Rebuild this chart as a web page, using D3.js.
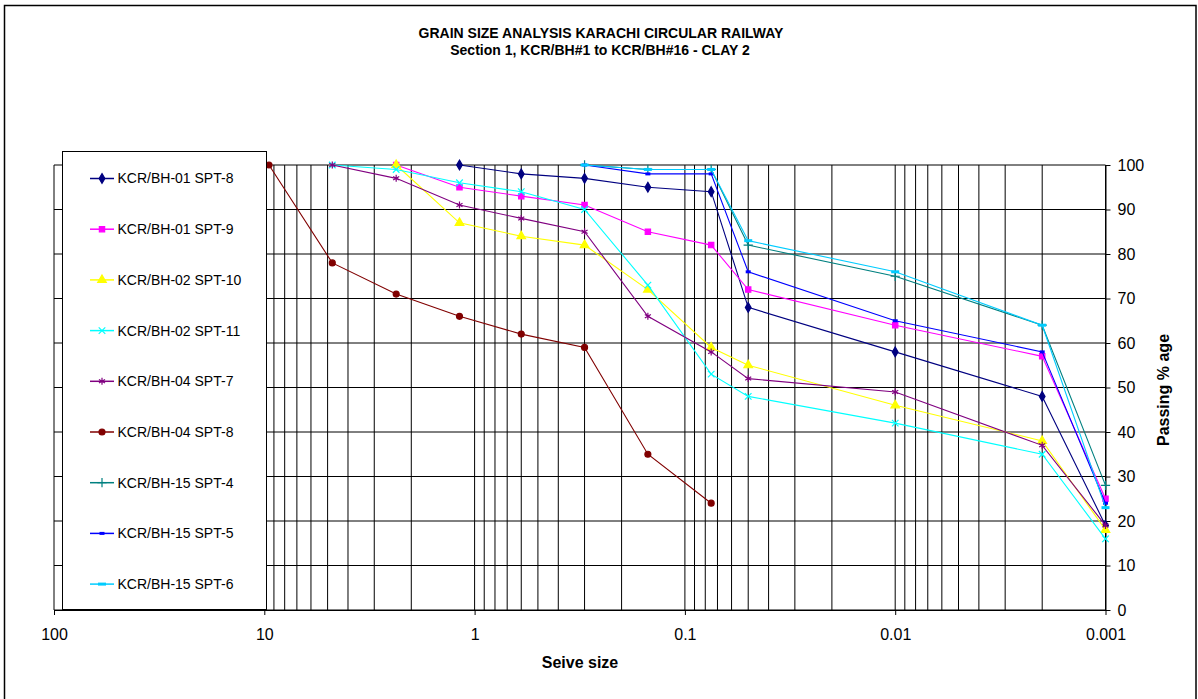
<!DOCTYPE html>
<html lang="en">
<head>
  <meta charset="UTF-8">
  <title>Grain Size Analysis - Karachi Circular Railway</title>
  <script src="https://d3js.org/d3.v7.min.js"></script>
  <style>
    body {
      margin: 0;
      font-family: "Liberation Sans", Arial, sans-serif;
      background: #fff;
    }
    .grid line {
      stroke: #000;
      stroke-width: 1px;
    }
    .axis path,
    .axis line {
      stroke: #000;
    }
    .axis text {
      font-size: 16px;
      fill: #000;
    }
    .series {
      fill: none;
      stroke-width: 1.1px;
    }
  </style>
</head>
<body>
  <svg width="1198" height="699"></svg>

  <script>
    // sieve sizes (mm) shared by all samples
    const sieveSizes = [9.5, 4.75, 2.36, 1.18, 0.6, 0.3, 0.15, 0.075, 0.05, 0.01, 0.002, 0.001];

    // percent passing per sample (null = not tested)
    const bh01Spt8  = [null, null, null, 100, 98, 97, 95, 94, 68, 58, 48, 19];
    const bh01Spt9  = [null, null, 100, 95, 93, 91, 85, 82, 72, 64, 57, 25];
    const bh02Spt10 = [null, null, 100, 87, 84, 82, 72, 59, 55, 46, 38, 18];
    const bh02Spt11 = [null, 100, 99, 96, 94, 90, 73, 53, 48, 42, 35, 16];
    const bh04Spt7  = [null, 100, 97, 91, 88, 85, 66, 58, 52, 49, 37, 19];
    const bh04Spt8  = [100, 78, 71, 66, 62, 59, 35, 24, null, null, null, null];
    const bh15Spt4  = [null, null, null, null, null, 100, 99, 99, 82, 75, 64, 28];
    const bh15Spt5  = [null, null, null, null, null, 100, 98, 98, 76, 65, 58, 24];
    const bh15Spt6  = [null, null, null, null, null, 100, 99, 99, 83, 76, 64, 23];

    const seriesNames = [
      "KCR/BH-01 SPT-8", "KCR/BH-01 SPT-9", "KCR/BH-02 SPT-10", "KCR/BH-02 SPT-11",
      "KCR/BH-04 SPT-7", "KCR/BH-04 SPT-8", "KCR/BH-15 SPT-4", "KCR/BH-15 SPT-5", "KCR/BH-15 SPT-6"
    ];
    const seriesValues = [bh01Spt8, bh01Spt9, bh02Spt10, bh02Spt11, bh04Spt7, bh04Spt8, bh15Spt4, bh15Spt5, bh15Spt6];

    const xTickValues = [100, 10, 1, 0.1, 0.01, 0.001];
    const xTickLabels = ["100", "10", "1", "0.1", "0.01", "0.001"];
    const yTickValues = [0, 10, 20, 30, 40, 50, 60, 70, 80, 90, 100];

    const svg = d3.select("svg");
    const plotL = 54, plotR = 1105.5, plotT = 165, plotB = 610;

    const x = d3.scaleLog().domain([100, 0.001]).range([plotL, plotR]);
    const y = d3.scaleLinear().domain([0, 100]).range([plotB, plotT]);

    // outer chart border
    svg.append("rect")
      .attr("x", 4.5).attr("y", 5.5)
      .attr("width", 1191.5).attr("height", 710)
      .attr("fill", "#fff").attr("stroke", "#000").attr("stroke-width", 1.5);

    // title
    svg.append("text")
      .attr("x", 601).attr("y", 38)
      .attr("text-anchor", "middle")
      .style("font-size", "14px").style("font-weight", "bold")
      .text("GRAIN SIZE ANALYSIS KARACHI CIRCULAR RAILWAY");
    svg.append("text")
      .attr("x", 600).attr("y", 55)
      .attr("text-anchor", "middle")
      .style("font-size", "14px").style("font-weight", "bold")
      .text("Section 1, KCR/BH#1 to KCR/BH#16 - CLAY 2");

    // log grid: 1..9 x each decade
    const vGrid = [100];
    for (let k = 1; k >= -3; k--) {
      for (let m = 9; m >= 1; m--) vGrid.push(m * Math.pow(10, k));
    }
    const grid = svg.append("g").attr("class", "grid");
    grid.selectAll(".v").data(vGrid).enter().append("line")
      .attr("x1", d => x(d)).attr("x2", d => x(d))
      .attr("y1", plotT).attr("y2", plotB);
    grid.selectAll(".h").data(yTickValues).enter().append("line")
      .attr("x1", plotL).attr("x2", plotR)
      .attr("y1", d => y(d)).attr("y2", d => y(d));

    // axes
    svg.append("g")
      .attr("class", "axis")
      .attr("transform", `translate(0,${plotB})`)
      .call(d3.axisBottom(x)
        .tickValues(xTickValues)
        .tickFormat((d, i) => xTickLabels[i])
        .tickSize(5).tickSizeOuter(0).tickPadding(14));

    svg.append("g")
      .attr("class", "axis")
      .attr("transform", `translate(${plotR},0)`)
      .call(d3.axisRight(y)
        .tickValues(yTickValues)
        .tickSize(5).tickSizeOuter(0).tickPadding(7));

    svg.append("text")
      .attr("x", 580).attr("y", 668)
      .attr("text-anchor", "middle")
      .style("font-size", "16px").style("font-weight", "bold")
      .text("Seive size");

    svg.append("text")
      .attr("transform", "translate(1169,390) rotate(-90)")
      .attr("text-anchor", "middle")
      .style("font-size", "16px").style("font-weight", "bold")
      .text("Passing % age");

    // marker shapes
    const dash = w => ({
      draw(ctx) {
        ctx.moveTo(-w / 2, 0);
        ctx.lineTo(w / 2, 0);
      }
    });
    const styles = [
      { color: "#000080", type: d3.symbolDiamond, size: 28, filled: true },
      { color: "#FF00FF", type: d3.symbolSquare, size: 28, filled: true },
      { color: "#FFFF00", type: d3.symbolTriangle, size: 32, filled: true },
      { color: "#00FFFF", type: d3.symbolTimes, size: 30, filled: false },
      { color: "#800080", type: d3.symbolAsterisk, size: 34, filled: false },
      { color: "#800000", type: d3.symbolCircle, size: 28, filled: true },
      { color: "#008080", type: d3.symbolPlus, size: 30, filled: false },
      { color: "#0000FF", type: dash(5), size: 1, filled: false, width: 3 },
      { color: "#00CCFF", type: dash(8), size: 1, filled: false, width: 3 }
    ];

    const line = d3.line()
      .defined(d => d.v != null)
      .x(d => x(d.s))
      .y(d => y(d.v));

    seriesValues.forEach((vals, i) => {
      const st = styles[i];
      const pts = sieveSizes.map((s, j) => ({ s: s, v: vals[j] }));
      const g = svg.append("g");
      g.append("path")
        .attr("class", "series")
        .attr("stroke", st.color)
        .attr("d", line(pts));
      g.selectAll("path.m")
        .data(pts.filter(p => p.v != null))
        .enter().append("path")
        .attr("class", "m")
        .attr("transform", p => `translate(${x(p.s)},${y(p.v)})`)
        .attr("d", d3.symbol().type(st.type).size(st.size))
        .attr("fill", st.filled ? st.color : "none")
        .attr("stroke", st.color)
        .attr("stroke-width", st.width || 1.2);
    });

    // legend
    const legend = svg.append("g");
    legend.append("rect")
      .attr("x", 62.5).attr("y", 151.5)
      .attr("width", 204).attr("height", 458)
      .attr("fill", "#fff").attr("stroke", "#000");

    const items = legend.selectAll(".item")
      .data(seriesNames)
      .enter().append("g")
      .attr("transform", (d, i) => `translate(0,${178.5 + i * 50.7})`);

    items.append("line")
      .attr("x1", 90).attr("x2", 114)
      .attr("stroke", (d, i) => styles[i].color)
      .attr("stroke-width", 1.5);
    items.append("path")
      .attr("transform", "translate(102,0)")
      .attr("d", (d, i) => d3.symbol().type(styles[i].type).size(styles[i].size)())
      .attr("fill", (d, i) => styles[i].filled ? styles[i].color : "none")
      .attr("stroke", (d, i) => styles[i].color)
      .attr("stroke-width", (d, i) => styles[i].width || 1.2);
    items.append("text")
      .attr("x", 117.5).attr("dy", "0.35em")
      .style("font-size", "14px")
      .text(d => d);
  </script>
</body>
</html>
